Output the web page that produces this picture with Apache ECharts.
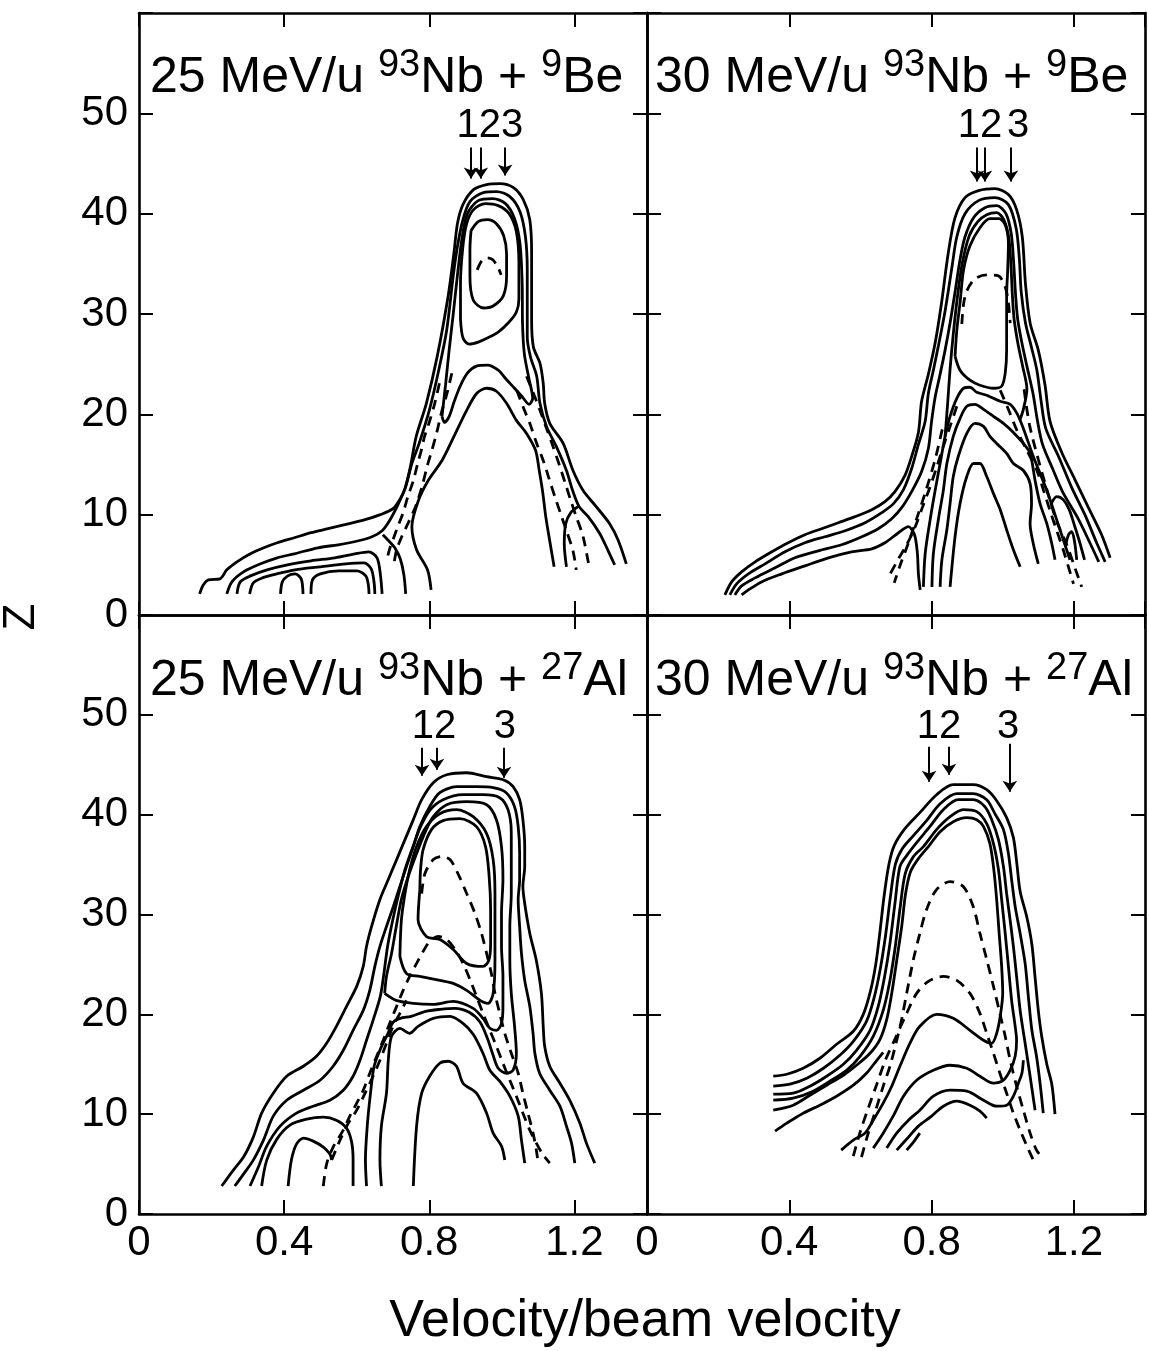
<!DOCTYPE html>
<html>
<head>
<meta charset="utf-8">
<script src="https://cdn.jsdelivr.net/npm/echarts@6/dist/echarts.min.js"></script>
<style>
html, body { margin: 0; padding: 0; background: #fff; }
#main { width: 1149px; height: 1351px; }
</style>
</head>
<body>
<div id="main"></div>
<script>
// ---- top left: 25 MeV/u Nb + Be ----
var tlOuter = [[0.167,2.1],[0.177,3.0],[0.191,3.5],[0.223,3.6],[0.242,4.5],[0.27,5.3],[0.307,6.1],[0.344,6.7],[0.381,7.2],[0.428,7.7],[0.474,8.2],[0.521,8.6],[0.567,9.0],[0.623,9.5],[0.665,10.0],[0.70,10.6],[0.72,11.6],[0.733,12.6],[0.748,14.8],[0.764,17.8],[0.792,21.1],[0.822,25.8],[0.852,31.8],[0.868,36.1],[0.878,39.1],[0.894,41.0],[0.922,42.4],[0.958,42.9],[0.995,43.0],[1.032,42.6],[1.059,41.4],[1.077,39.4],[1.082,36.1],[1.082,32.7],[1.082,29.4],[1.087,26.7],[1.105,25.1],[1.114,23.1],[1.118,21.1],[1.132,19.1],[1.169,17.1],[1.196,14.4],[1.224,12.4],[1.26,10.8],[1.297,9.1],[1.32,7.5],[1.343,5.1]];
var tlEnv2 = [[0.242,2.1],[0.256,3.3],[0.288,4.3],[0.335,5.1],[0.381,5.7],[0.428,6.1],[0.493,6.7],[0.549,7.0],[0.605,7.4],[0.642,7.8],[0.67,8.4],[0.692,9.5],[0.715,11.1],[0.735,12.8],[0.752,15.1],[0.772,17.1],[0.8,20.4],[0.826,24.4],[0.848,28.4],[0.866,33.8],[0.877,36.6],[0.892,39.3],[0.912,41.2],[0.949,42.1],[0.985,42.2],[1.022,41.7],[1.05,40.2],[1.065,37.7],[1.07,34.4],[1.07,31.1],[1.07,27.7],[1.079,25.7],[1.096,23.8],[1.105,21.1],[1.123,18.8],[1.15,16.8],[1.178,14.4],[1.195,12.4],[1.213,10.8],[1.238,9.8],[1.27,8.1],[1.293,6.4],[1.311,5.0]];
var tlLoopC = [[0.835,19.8],[0.845,23],[0.855,26.5],[0.866,30],[0.878,34],[0.89,37.5],[0.905,40],[0.935,41.3],[0.975,41.5],[1.01,41.0],[1.035,39.5],[1.05,37],[1.056,33],[1.057,29],[1.062,26],[1.075,23.5],[1.085,21.6],[1.075,21.0],[1.055,21.8],[1.035,22.6],[1.012,23.5],[0.99,24.4],[0.96,24.9],[0.93,24.8],[0.905,24.1],[0.885,22.8],[0.868,21.2],[0.855,19.8],[0.842,19.2],[0.835,19.8]];
var tlLoopB = [[0.886,29.5],[0.886,33],[0.892,36.5],[0.903,39],[0.922,40.4],[0.955,41.0],[0.99,40.8],[1.02,40.0],[1.04,38.2],[1.047,35],[1.047,31.5],[1.04,30.2],[1.02,29.2],[0.99,28.2],[0.96,27.6],[0.935,27.2],[0.91,27.0],[0.893,27.6],[0.886,29.5]];
var tlLoopA = [[0.915,38.3],[0.935,39.2],[0.96,39.4],[0.985,39.0],[1.005,37.8],[1.013,36],[1.013,33.8],[1.004,31.8],[0.976,30.8],[0.949,30.6],[0.921,31.4],[0.912,33.8],[0.912,36.4],[0.915,38.3]];
var tlInner = [[0.805,2.5],[0.795,4.5],[0.765,6.5],[0.752,8.8],[0.77,11.4],[0.797,13.4],[0.835,15.4],[0.868,17.8],[0.903,20.4],[0.931,22.1],[0.958,22.6],[0.985,22.3],[1.013,21.1],[1.04,19.4],[1.068,18.1],[1.093,16.4],[1.103,14.4],[1.112,12.4],[1.121,9.8],[1.13,7.8],[1.144,4.8]];
var tlArchR = [[1.178,4.8],[1.172,7.1],[1.176,9.1],[1.19,10.2],[1.21,10.8]];
var tlTail3 = [[0.27,2.1],[0.279,3.3],[0.307,3.9],[0.353,4.5],[0.409,5.0],[0.474,5.4],[0.54,5.7],[0.595,6.1],[0.633,6.3],[0.656,5.7],[0.665,4.1],[0.67,2.1]];
var tlTail4 = [[0.305,2.1],[0.315,3.2],[0.34,3.7],[0.38,4.1],[0.43,4.5],[0.5,4.8],[0.57,5.1],[0.62,5.2],[0.64,4.6],[0.648,3.2],[0.65,2.1]];
var tlTail5 = [[0.39,2.1],[0.395,3.3],[0.41,3.9],[0.43,4.1],[0.447,3.6],[0.452,2.1]];
var tlTail6 = [[0.474,2.1],[0.478,3.5],[0.5,4.1],[0.55,4.4],[0.6,4.4],[0.625,3.9],[0.632,3.0],[0.634,2.1]];
var tlFoot = [[0.735,2.1],[0.73,4.0],[0.72,5.6],[0.705,6.7],[0.688,7.4],[0.672,8.0]];
var tlDashArc = [[0.932,34.4],[0.945,35.3],[0.96,35.6],[0.975,35.4],[0.99,34.6],[0.998,33.9]];
var tlDash1 = [[0.828,23.1],[0.815,21.1],[0.799,19.1],[0.787,17.8],[0.778,16.4],[0.768,15.1],[0.756,13.4],[0.741,11.8],[0.727,10.1],[0.713,8.8],[0.703,7.8],[0.69,6.5],[0.682,5.3]];
var tlDash2 = [[0.862,24.1],[0.849,22.1],[0.833,20.1],[0.82,18.1],[0.807,16.4],[0.794,14.8],[0.78,12.8],[0.762,10.8],[0.741,9.1],[0.724,7.8],[0.71,6.5],[0.703,5.2]];
var tlDash3 = [[1.041,22.4],[1.06,20.6],[1.077,19.1],[1.095,17.2],[1.114,15.4],[1.13,13.6],[1.146,11.8],[1.162,10.1],[1.178,8.4],[1.196,6.4],[1.205,4.5]];
var tlDash4 = [[1.068,23.8],[1.087,22.1],[1.105,20.4],[1.123,18.6],[1.141,16.8],[1.158,15.0],[1.175,13.1],[1.19,11.4],[1.205,9.8],[1.224,7.8],[1.242,4.5]];
var tlArrows = [[0.915,46.6,43.5],[0.942,46.6,43.5],[1.009,46.6,43.8]];
var tlMarks = [[0.967,'123']];

// ---- top right: 30 MeV/u Nb + Be ----
var trOuter = [[0.219,2.0],[0.238,3.3],[0.266,4.3],[0.304,5.3],[0.351,6.3],[0.397,7.2],[0.444,8.0],[0.491,8.6],[0.538,9.2],[0.585,9.8],[0.632,10.5],[0.669,11.3],[0.697,12.3],[0.725,13.9],[0.744,15.8],[0.763,18.2],[0.772,21.3],[0.791,24.0],[0.81,27.1],[0.828,31.1],[0.847,36.1],[0.866,39.6],[0.894,41.6],[0.932,42.3],[0.978,42.5],[1.016,41.9],[1.039,40.4],[1.055,37.7],[1.064,33.0],[1.077,29.1],[1.1,26.4],[1.119,22.9],[1.133,19.3],[1.166,16.2],[1.203,13.5],[1.241,10.7],[1.278,8.0],[1.302,5.7]];
var trEnv2 = [[0.233,2.0],[0.252,3.1],[0.285,4.1],[0.332,5.1],[0.388,6.3],[0.444,7.2],[0.5,7.8],[0.557,8.4],[0.613,9.2],[0.66,10.2],[0.693,11.1],[0.721,12.5],[0.744,14.6],[0.763,17.0],[0.782,19.3],[0.791,22.1],[0.805,24.4],[0.819,26.8],[0.838,30.3],[0.857,34.6],[0.871,37.7],[0.894,40.0],[0.932,41.3],[0.978,41.6],[1.016,40.9],[1.038,38.5],[1.047,35.4],[1.052,32.2],[1.064,29.1],[1.08,26.8],[1.096,24.4],[1.108,21.3],[1.121,18.6],[1.157,15.8],[1.194,12.7],[1.231,10.0],[1.264,7.2],[1.288,5.3]];
var trEnv3 = [[0.247,2.0],[0.266,2.9],[0.304,3.7],[0.36,4.7],[0.416,5.7],[0.482,6.4],[0.547,7.0],[0.604,7.8],[0.65,8.6],[0.688,9.6],[0.716,10.7],[0.744,12.3],[0.772,14.3],[0.791,16.6],[0.8,19.3],[0.81,21.7],[0.824,24.0],[0.838,26.4],[0.852,29.1],[0.866,32.2],[0.88,35.4],[0.894,37.7],[0.918,39.6],[0.95,40.6],[0.983,40.8],[1.009,40.0],[1.024,38.0],[1.031,35.0],[1.036,32.0],[1.042,29.5],[1.054,27.1],[1.068,24.8],[1.085,22.1],[1.098,19.3],[1.112,17.0],[1.14,14.6],[1.168,12.3],[1.212,9.6],[1.245,7.2],[1.27,5.3]];
var trBand = [[0.838,17.8],[0.845,21],[0.852,24.5],[0.861,28],[0.872,31.5],[0.886,35],[0.906,37.8],[0.93,39.2],[0.955,39.9],[0.983,40.1],[1.003,39.4],[1.017,37.6],[1.023,35],[1.027,32],[1.032,29.5],[1.043,27],[1.056,24.8],[1.068,22.5],[1.058,20.5],[1.048,19.4]];
var trEnv4 = [[0.266,2.0],[0.285,2.5],[0.322,3.3],[0.379,4.1],[0.444,4.9],[0.51,5.7],[0.575,6.3],[0.632,6.6],[0.669,7.2],[0.707,8.2],[0.735,8.8],[0.752,8.0],[0.76,6.2],[0.763,4.1],[0.768,2.5]];
var trLoop = [[0.866,25.8],[0.88,24.4],[0.908,23.4],[0.936,22.9],[0.974,22.6],[0.997,22.8],[1.007,24.1],[1.011,26.4],[1.011,29.4],[1.011,31.8],[1.014,34.4],[1.016,37.0],[1.008,38.8],[0.99,39.5],[0.964,39.5],[0.936,38.6],[0.908,36.8],[0.89,34.4],[0.88,31.1],[0.871,28.4],[0.866,25.8]];
var trArc1 = [[0.852,2.8],[0.866,7.8],[0.88,11.1],[0.899,13.8],[0.918,15.1],[0.936,15.1],[0.955,13.8],[0.974,12.1],[0.993,10.5],[1.011,8.5],[1.03,6.5],[1.049,4.8]];
var trArc2 = [[0.824,2.8],[0.829,5.5],[0.843,8.5],[0.852,11.1],[0.861,13.8],[0.875,15.8],[0.899,18.1],[0.922,19.1],[0.946,18.8],[0.964,17.8],[0.983,17.1],[1.011,16.1],[1.03,15.1],[1.058,14.4],[1.077,13.1],[1.081,11.1],[1.077,9.1],[1.086,7.1],[1.1,5.1]];
var trArc3 = [[0.801,2.8],[0.805,6.1],[0.819,9.5],[0.833,12.4],[0.843,15.1],[0.861,17.8],[0.88,19.6],[0.899,20.8],[0.922,21.0],[0.946,20.5],[0.974,19.8],[1.002,19.1],[1.03,18.2],[1.058,17.1],[1.077,16.1],[1.091,13.4],[1.105,11.1],[1.124,9.1],[1.138,7.1],[1.147,5.5]];
var trArc4 = [[0.777,2.8],[0.782,6.1],[0.796,9.5],[0.81,12.4],[0.824,15.1],[0.838,17.8],[0.852,19.8],[0.871,21.6],[0.89,22.6],[0.908,22.7],[0.927,22.2],[0.955,21.9],[0.993,21.3],[1.021,21.0],[1.04,20.1],[1.058,18.6],[1.086,15.8],[1.124,12.4],[1.161,8.5],[1.189,5.5]];
var trHook1 = [[1.135,11.0],[1.152,11.8],[1.17,11.5],[1.187,10.5],[1.202,8.9],[1.216,7.3],[1.23,5.5]];
var trHook2 = [[1.176,6.8],[1.185,8.0],[1.194,8.3],[1.202,7.3],[1.208,5.5]];
var trDashArc = [[0.885,29.0],[0.89,31.0],[0.899,32.3],[0.922,33.5],[0.955,33.9],[0.988,33.8],[1.007,32.7],[1.016,31.1],[1.021,29.1]];
var trDash1 = [[0.871,20.8],[0.852,18.8],[0.833,16.8],[0.815,14.8],[0.796,12.8],[0.775,10.8],[0.754,8.8],[0.73,7.0],[0.707,5.6],[0.679,3.8]];
var trDash2 = [[0.83,18.5],[0.81,15.5],[0.785,12.5],[0.76,9.8],[0.735,7.2],[0.712,5.0],[0.695,3.2]];
var trDash3 = [[0.993,22.4],[1.017,20.4],[1.04,18.4],[1.068,16.4],[1.096,14.4],[1.115,12.4],[1.133,10.4],[1.152,8.4],[1.171,6.4],[1.199,3.1]];
var trDash4 = [[1.06,22.5],[1.075,19.0],[1.1,15.5],[1.125,12.4],[1.15,9.5],[1.18,7.0],[1.205,4.5],[1.222,2.8]];
var trArrows = [[0.928,46.6,43.2],[0.95,46.6,43.2],[1.023,46.6,43.2]];
var trMarks = [[0.936,'12'],[1.043,'3']];

// ---- bottom left: 25 MeV/u Nb + Al ----
var blOuter = [[0.228,2.8],[0.26,4.4],[0.288,5.7],[0.315,7.7],[0.338,10.1],[0.37,12.1],[0.407,13.8],[0.453,14.8],[0.489,15.8],[0.517,17.1],[0.544,18.8],[0.572,20.8],[0.6,22.8],[0.618,24.8],[0.627,26.8],[0.641,28.8],[0.664,31.5],[0.687,33.5],[0.71,35.5],[0.733,37.5],[0.756,39.5],[0.779,41.5],[0.811,43.2],[0.848,44.0],[0.903,44.2],[0.958,43.8],[1.004,43.5],[1.031,42.8],[1.049,41.5],[1.058,39.5],[1.063,36.8],[1.063,34.8],[1.058,32.8],[1.063,31.1],[1.077,28.1],[1.095,25.4],[1.109,22.1],[1.114,18.8],[1.118,16.8],[1.132,14.8],[1.16,13.1],[1.187,11.4],[1.215,9.1],[1.233,7.1],[1.256,5.1]];
var blEnv2 = [[0.264,2.8],[0.288,4.0],[0.315,5.4],[0.343,7.4],[0.37,9.8],[0.407,11.4],[0.453,12.4],[0.499,13.4],[0.535,14.8],[0.563,16.4],[0.59,18.4],[0.618,20.4],[0.636,22.4],[0.65,24.8],[0.664,26.8],[0.682,28.8],[0.701,30.8],[0.719,32.8],[0.737,34.8],[0.756,36.8],[0.774,38.8],[0.801,40.8],[0.829,42.2],[0.875,42.8],[0.93,42.8],[0.976,42.7],[1.012,42.2],[1.035,40.8],[1.045,38.8],[1.049,36.1],[1.049,33.5],[1.045,31.5],[1.049,28.8],[1.054,26.1],[1.063,23.4],[1.077,20.8],[1.086,18.1],[1.091,16.1],[1.104,14.1],[1.132,12.4],[1.16,10.8],[1.178,8.8],[1.192,7.1],[1.201,5.1]];
var blEnv3 = [[0.306,2.8],[0.329,4.7],[0.352,6.8],[0.389,8.8],[0.434,10.1],[0.48,10.8],[0.526,11.4],[0.563,12.4],[0.59,13.8],[0.609,15.4],[0.627,17.4],[0.645,19.4],[0.665,21.8],[0.675,24.1],[0.685,26.8],[0.699,29.4],[0.716,32.1],[0.733,34.5],[0.755,36.8],[0.776,38.8],[0.803,40.5],[0.838,41.5],[0.893,42.0],[0.948,42.0],[0.994,41.7],[1.017,40.5],[1.026,38.2],[1.026,35.5],[1.026,32.1],[1.022,28.8],[1.022,25.4],[1.026,22.1],[1.035,18.8],[1.04,16.1],[1.031,14.4],[1.013,14.1],[0.99,14.6],[0.975,16.0],[0.96,17.6],[0.94,19.2],[0.91,20.2],[0.87,20.6],[0.83,20.5],[0.79,20.3],[0.75,19.8],[0.72,19.6],[0.7,19.2],[0.685,18.0],[0.665,16.5],[0.648,14.8],[0.638,12.1],[0.629,8.8],[0.624,5.4],[0.627,2.8]];
var blArch = [[0.338,2.8],[0.352,5.4],[0.38,7.5],[0.416,8.9],[0.462,9.5],[0.508,9.7],[0.544,9.4],[0.572,8.6],[0.586,7.2],[0.59,5.4],[0.59,2.8]];
var blSmall = [[0.411,2.8],[0.42,5.4],[0.434,7.0],[0.453,7.6],[0.48,7.3],[0.508,6.7],[0.526,6.0],[0.531,5.4]];
var blLoop4 = [[0.677,22.1],[0.709,21.4],[0.756,21.1],[0.811,21.0],[0.866,21.3],[0.921,20.6],[0.948,19.6],[0.967,18.6],[0.985,18.4],[0.999,19.1],[1.003,20.8],[1.003,23.8],[0.999,26.8],[0.999,30.1],[1.003,33.5],[0.999,36.8],[0.985,39.5],[0.958,41.0],[0.903,41.3],[0.848,41.0],[0.811,39.8],[0.788,38.2],[0.765,36.1],[0.742,33.8],[0.723,31.5],[0.709,28.8],[0.696,26.1],[0.682,23.8],[0.677,22.1]];
var blLoop5 = [[0.719,25.8],[0.737,24.1],[0.774,23.8],[0.829,23.4],[0.866,23.1],[0.903,22.4],[0.94,21.4],[0.962,21.1],[0.976,22.1],[0.981,25.4],[0.981,28.8],[0.981,32.1],[0.976,35.5],[0.958,38.1],[0.921,39.8],[0.875,40.5],[0.829,40.1],[0.792,38.8],[0.765,36.8],[0.746,34.5],[0.733,32.1],[0.723,29.4],[0.719,25.8]];
var blLoop6 = [[0.774,32.5],[0.769,29.5],[0.792,27.8],[0.829,27.5],[0.866,26.5],[0.903,25.1],[0.948,24.8],[0.964,25.4],[0.969,27.1],[0.969,30.5],[0.965,33.8],[0.955,36.8],[0.93,38.8],[0.884,39.6],[0.838,39.4],[0.806,38.5],[0.783,36.5],[0.776,34.5],[0.774,32.5]];
var blArc1 = [[0.756,2.8],[0.765,8.8],[0.779,12.1],[0.801,13.8],[0.829,15.1],[0.852,15.3],[0.875,14.8],[0.893,13.1],[0.93,12.1],[0.958,10.1],[0.976,8.1],[0.999,6.8],[1.008,5.4]];
var blArc2 = [[0.668,2.8],[0.664,5.4],[0.668,8.8],[0.682,12.1],[0.687,15.4],[0.696,17.8],[0.719,18.6],[0.746,18.1],[0.769,18.8],[0.811,19.6],[0.857,19.8],[0.893,19.1],[0.921,18.0],[0.948,16.1],[0.967,14.4],[0.994,13.3],[1.022,11.8],[1.045,9.8],[1.054,7.4],[1.063,5.1]];
var blDash1 = [[0.779,32.1],[0.788,34.1],[0.811,35.5],[0.834,35.8],[0.857,35.5],[0.879,34.1],[0.903,32.1],[0.926,30.1],[0.944,28.1],[0.958,26.1],[0.971,24.1],[0.981,22.1],[0.994,20.1],[1.008,18.1],[1.026,16.1],[1.045,14.1],[1.058,12.1],[1.072,10.1],[1.086,8.1],[1.095,6.4],[1.1,5.1]];
var blDash2 = [[0.508,2.8],[0.517,5.0],[0.535,6.7],[0.563,8.4],[0.581,9.8],[0.6,11.1],[0.618,12.4],[0.636,14.1],[0.655,15.8],[0.673,17.4],[0.691,19.1],[0.71,20.8],[0.728,22.4],[0.746,23.8],[0.765,25.1],[0.783,26.3],[0.801,27.3],[0.824,27.8],[0.848,27.5],[0.871,26.5],[0.893,25.1],[0.912,23.5],[0.93,21.8],[0.948,20.1],[0.967,18.4],[0.985,16.8],[1.003,15.1],[1.022,13.4],[1.04,11.8],[1.058,10.1],[1.077,8.4],[1.095,7.1],[1.114,5.9],[1.132,5.1]];
var blDash3 = [[0.531,5.4],[0.554,7.4],[0.577,9.1],[0.6,10.4],[0.623,12.1],[0.645,13.8],[0.664,15.4],[0.682,17.1],[0.7,18.8],[0.719,20.1],[0.737,21.4]];
var blArrows = [[0.78,46.7,43.9],[0.821,46.7,44.5],[1.006,46.7,43.7]];
var blMarks = [[0.813,'12'],[1.008,'3']];

// ---- bottom right: 30 MeV/u Nb + Al ----
var brC1 = [[0.355,13.8],[0.393,14.0],[0.439,14.6],[0.486,15.6],[0.533,17.0],[0.58,18.3],[0.608,20.0],[0.628,22.3],[0.643,25.0],[0.655,28.3],[0.666,31.7],[0.68,35.0],[0.695,36.9],[0.725,38.6],[0.767,40.2],[0.814,42.0],[0.861,43.0],[0.917,43.0],[0.955,42.5],[0.983,41.4],[1.011,39.7],[1.03,37.7],[1.04,35.0],[1.049,32.3],[1.068,29.7],[1.082,27.0],[1.091,23.7],[1.1,20.4],[1.11,17.7],[1.124,15.0],[1.138,13.0],[1.147,10.0]];
var brC2 = [[0.355,12.8],[0.402,13.0],[0.449,13.6],[0.496,14.6],[0.542,15.9],[0.58,17.3],[0.617,19.3],[0.638,21.6],[0.656,24.6],[0.671,28.0],[0.684,31.7],[0.698,35.0],[0.718,36.6],[0.749,37.9],[0.786,39.4],[0.824,41.1],[0.871,42.1],[0.917,42.1],[0.955,41.5],[0.978,40.1],[1.002,38.5],[1.016,36.1],[1.025,33.5],[1.035,30.8],[1.049,28.1],[1.063,25.1],[1.072,21.8],[1.082,18.4],[1.095,15.8],[1.105,13.1],[1.114,10.1]];
var brC3 = [[0.355,12.0],[0.411,12.1],[0.458,12.8],[0.505,13.8],[0.552,15.0],[0.589,16.4],[0.627,18.4],[0.65,20.8],[0.668,23.8],[0.683,27.1],[0.697,31.1],[0.711,34.8],[0.73,35.9],[0.758,37.2],[0.795,38.8],[0.833,40.5],[0.875,41.5],[0.917,41.5],[0.95,40.8],[0.969,39.5],[0.988,37.5],[1.002,34.8],[1.011,32.1],[1.021,29.4],[1.03,26.8],[1.039,23.8],[1.049,20.4],[1.063,17.1],[1.077,13.8],[1.091,10.4]];
var brC4 = [[0.355,11.4],[0.411,11.6],[0.467,12.3],[0.514,13.3],[0.561,14.4],[0.599,15.8],[0.636,17.8],[0.664,20.4],[0.683,23.4],[0.698,26.8],[0.712,30.8],[0.726,34.1],[0.749,35.8],[0.777,36.8],[0.814,38.5],[0.852,39.8],[0.889,40.5],[0.927,40.3],[0.955,39.1],[0.974,37.1],[0.988,34.5],[0.997,31.5],[1.007,28.1],[1.016,24.8],[1.025,21.4],[1.035,18.8],[1.039,17.4],[1.035,15.8],[1.021,14.4],[1.002,13.4],[0.974,13.1],[0.936,13.8],[0.899,14.6],[0.852,14.9],[0.805,14.4],[0.758,13.4],[0.721,11.8],[0.692,9.8],[0.664,8.1],[0.636,6.6]];
var brC5 = [[0.355,10.4],[0.411,10.9],[0.458,11.9],[0.505,12.9],[0.552,13.9],[0.589,14.9],[0.627,16.1],[0.655,17.5],[0.674,19.5],[0.688,22.1],[0.702,25.4],[0.716,28.8],[0.727,32.1],[0.741,34.3],[0.763,35.6],[0.791,36.8],[0.824,38.3],[0.861,39.3],[0.899,39.7],[0.927,39.5],[0.946,38.8],[0.964,37.1],[0.975,34.5],[0.983,31.5],[0.99,28.1],[0.997,24.8],[1.0,22.1],[0.993,19.8],[0.983,18.1],[0.969,17.1],[0.946,17.4],[0.908,18.4],[0.861,19.6],[0.814,20.0],[0.767,18.8],[0.739,17.1],[0.711,14.8],[0.688,12.8],[0.664,11.1],[0.636,9.4],[0.613,8.1],[0.58,7.4],[0.546,6.4]];
var brC6 = [[0.36,8.3],[0.393,9.1],[0.439,10.1],[0.486,10.9],[0.533,11.8],[0.58,12.9],[0.617,14.1],[0.646,15.4],[0.664,16.2]];
var brW3 = [[0.674,6.6],[0.702,8.1],[0.735,9.4],[0.767,10.4],[0.805,11.8],[0.852,12.4],[0.899,12.3],[0.946,11.4],[0.983,10.8],[1.011,10.9],[1.03,11.8],[1.044,13.1],[1.054,14.1],[1.058,15.4]];
var brW4 = [[0.702,6.4],[0.735,7.7],[0.763,8.8],[0.8,9.8],[0.833,10.8],[0.871,11.3],[0.908,10.9],[0.936,10.3],[0.955,9.6]];
var brW5 = [[0.73,6.4],[0.749,7.2],[0.767,8.1]];
var brDash1 = [[0.603,5.7],[0.622,8.1],[0.643,10.4],[0.664,12.8],[0.683,14.8],[0.7,17.1],[0.716,19.5],[0.73,22.1],[0.749,25.5],[0.767,28.1],[0.786,30.5],[0.814,32.5],[0.852,33.3],[0.889,32.8],[0.917,30.8],[0.936,28.1],[0.955,25.5],[0.974,22.8],[0.992,20.1],[1.007,17.8],[1.021,15.4],[1.039,12.8],[1.058,10.4],[1.077,8.1],[1.095,6.4],[1.11,5.7]];
var brDash2 = [[0.58,5.8],[0.6,8.3],[0.622,10.6],[0.645,12.9],[0.67,15.4],[0.698,17.6],[0.73,20.1],[0.758,22.1],[0.791,23.3],[0.833,23.8],[0.871,23.4],[0.908,22.1],[0.936,20.1],[0.955,18.1],[0.974,16.1],[0.992,14.1],[1.011,12.1],[1.03,10.1],[1.049,8.4],[1.068,6.8],[1.086,5.4]];
var brArrows = [[0.793,46.8,43.3],[0.849,46.8,44.0],[1.02,47.1,42.3]];
var brMarks = [[0.821,'12'],[1.015,'3']];

// axis ticks and text
var xTickStep = 0.4, xMax = 1.4;
var zTickStep = 10, zMax = 60;
var markZ = [48.7, 48.7, 48.8, 48.8];
var panelTitles = [
  ['25 MeV/u ', '93', 'Nb + ', '9', 'Be'],
  ['30 MeV/u ', '93', 'Nb + ', '9', 'Be'],
  ['25 MeV/u ', '93', 'Nb + ', '27', 'Al'],
  ['30 MeV/u ', '93', 'Nb + ', '27', 'Al']
];

var panels = [
  { solid: [tlOuter, tlEnv2, tlLoopC, tlLoopB, tlLoopA, tlInner, tlArchR, tlTail3, tlTail4, tlTail5, tlTail6, tlFoot],
    dashed: [tlDashArc, tlDash1, tlDash2, tlDash3, tlDash4], arrows: tlArrows, marks: tlMarks },
  { solid: [trOuter, trEnv2, trEnv3, trBand, trEnv4, trLoop, trArc1, trArc2, trArc3, trArc4, trHook1, trHook2],
    dashed: [trDashArc, trDash1, trDash2, trDash3, trDash4], arrows: trArrows, marks: trMarks },
  { solid: [blOuter, blEnv2, blEnv3, blArch, blSmall, blLoop4, blLoop5, blLoop6, blArc1, blArc2],
    dashed: [blDash1, blDash2, blDash3], arrows: blArrows, marks: blMarks },
  { solid: [brC1, brC2, brC3, brC4, brC5, brC6, brW3, brW4, brW5],
    dashed: [brDash1, brDash2], arrows: brArrows, marks: brMarks }
];

var FONT = '"Liberation Sans", Arial, Helvetica, sans-serif';
var grids = [
  { left: 139, top: 13, width: 508, height: 602 },
  { left: 647, top: 13, width: 498, height: 602 },
  { left: 139, top: 615, width: 508, height: 599 },
  { left: 647, top: 615, width: 498, height: 599 }
];
var titlePos = [[150, 47], [655, 47], [150, 650], [655, 650]];

function axisX(gi, pos, labels) {
  return {
    type: 'value', gridIndex: gi, position: pos, min: 0, max: xMax, interval: xTickStep,
    axisLine: { show: true, onZero: false, lineStyle: { color: '#000', width: 2.6 } },
    axisTick: { show: true, inside: true, length: 14, lineStyle: { color: '#000', width: 2 } },
    splitLine: { show: false },
    axisLabel: {
      show: labels, margin: 8, color: '#000', fontSize: 42, fontFamily: FONT,
      formatter: function (v) { return v > 1.3 ? '' : (v === 0 ? '0' : v.toFixed(1)); }
    }
  };
}
function axisY(gi, pos, labels) {
  return {
    type: 'value', gridIndex: gi, position: pos, min: 0, max: zMax, interval: zTickStep,
    axisLine: { show: true, onZero: false, lineStyle: { color: '#000', width: 2.6 } },
    axisTick: { show: true, inside: true, length: 14, lineStyle: { color: '#000', width: 2 } },
    splitLine: { show: false },
    axisLabel: {
      show: labels, margin: 11, color: '#000', fontSize: 42, fontFamily: FONT,
      formatter: function (v) { return v >= zMax ? '' : String(v); }
    }
  };
}

var xAxes = [], yAxes = [];
grids.forEach(function (g, i) {
  xAxes.push(axisX(i, 'bottom', i >= 2));
  xAxes.push(axisX(i, 'top', false));
  yAxes.push(axisY(i, 'left', i % 2 === 0));
  yAxes.push(axisY(i, 'right', false));
});

function curve(data, gi, dashed) {
  return {
    type: 'line', xAxisIndex: gi * 2, yAxisIndex: gi * 2, data: data,
    showSymbol: false, symbol: 'none', smooth: 0.3, silent: true,
    lineStyle: { color: '#000', width: 2.8, type: dashed ? [10, 7] : 'solid' }
  };
}

var series = [];
panels.forEach(function (p, gi) {
  p.solid.forEach(function (d) { series.push(curve(d, gi, false)); });
  p.dashed.forEach(function (d) { series.push(curve(d, gi, true)); });
  series.push({
    type: 'lines', coordinateSystem: 'cartesian2d', xAxisIndex: gi * 2, yAxisIndex: gi * 2,
    silent: true, symbol: ['none', 'arrow'], symbolSize: 11,
    lineStyle: { color: '#000', width: 2, opacity: 1, curveness: 0 },
    data: p.arrows.map(function (a) { return { coords: [[a[0], a[1]], [a[0], a[2]]] }; })
  });
  series.push({
    type: 'scatter', xAxisIndex: gi * 2, yAxisIndex: gi * 2, silent: true,
    symbolSize: 1, itemStyle: { color: '#fff', opacity: 1 },
    label: { show: true, position: 'inside', formatter: '{b}', color: '#000', opacity: 1,
      fontSize: 40, fontFamily: FONT, textBorderWidth: 0 },
    data: p.marks.map(function (m) { return { name: m[1], value: [m[0], markZ[gi]] }; })
  });
});

var rich = {
  m: { fontSize: 50, fontFamily: FONT, fontWeight: 'normal', color: '#000', lineHeight: 56, verticalAlign: 'bottom' },
  s: { fontSize: 38, fontFamily: FONT, fontWeight: 'normal', color: '#000', lineHeight: 40, verticalAlign: 'top' }
};

var chart = echarts.init(document.getElementById('main'));
chart.setOption({
  backgroundColor: '#fff',
  animation: false,
  title: panelTitles.map(function (t, i) {
    return {
      left: titlePos[i][0], top: titlePos[i][1], padding: 0,
      text: '{m|' + t[0] + '}{s|' + t[1] + '}{m|' + t[2] + '}{s|' + t[3] + '}{m|' + t[4] + '}',
      textStyle: { fontWeight: 'normal', rich: rich }
    };
  }),
  grid: grids.map(function (g) {
    return { left: g.left, top: g.top, width: g.width, height: g.height, containLabel: false, outerBoundsMode: 'none' };
  }),
  xAxis: xAxes,
  yAxis: yAxes,
  series: series,
  graphic: [
    { type: 'text', x: 645, y: 1322, silent: true,
      style: { text: 'Velocity/beam velocity', fill: '#000', font: '52px ' + FONT, align: 'center', verticalAlign: 'middle', textAlign: 'center', textVerticalAlign: 'middle' } },
    { type: 'text', x: 22, y: 617, rotation: Math.PI / 2, silent: true,
      style: { text: 'Z', fill: '#000', font: '44px ' + FONT, align: 'center', verticalAlign: 'middle', textAlign: 'center', textVerticalAlign: 'middle' } }
  ]
});
</script>
</body>
</html>
